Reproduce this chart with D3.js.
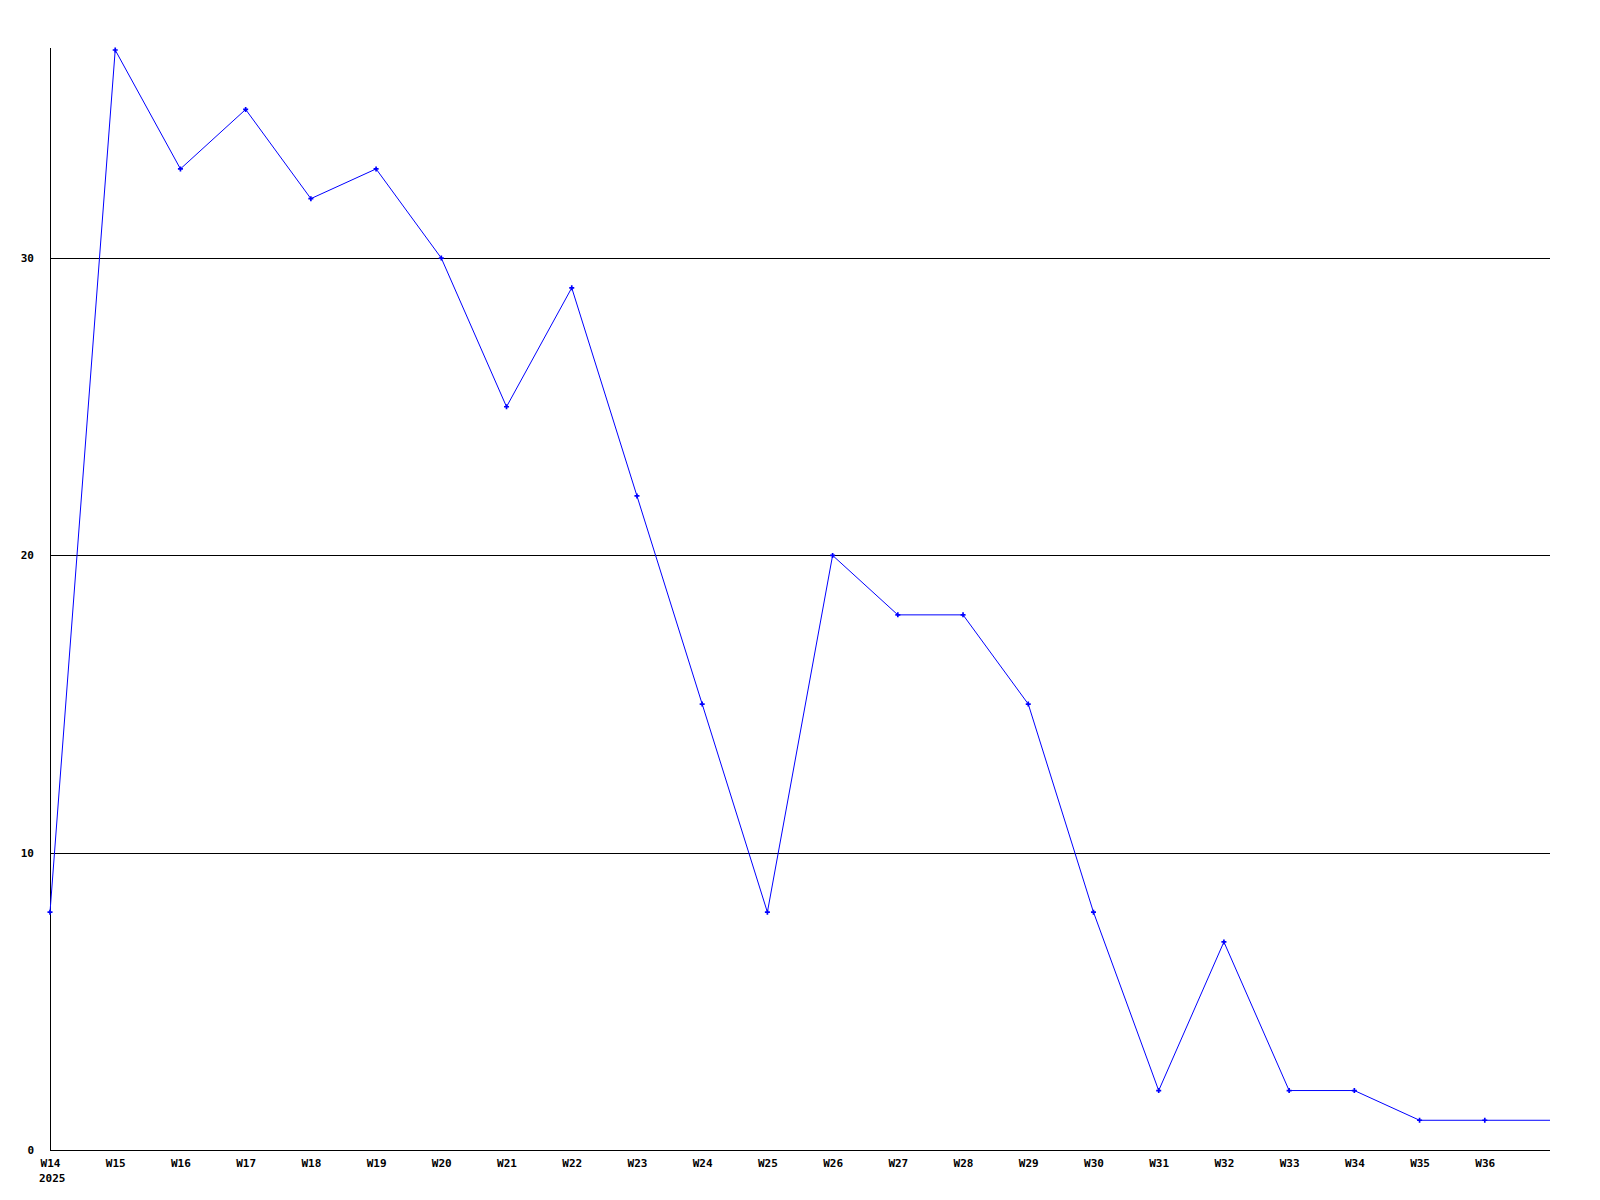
<!DOCTYPE html>
<html>
<head>
<meta charset="utf-8">
<script src="https://cdn.jsdelivr.net/npm/d3@7"></script>
<style>
  body { margin: 0; background: #fff; }
  svg text { font-family: "DejaVu Sans Mono", monospace; font-weight: bold; font-size: 11px; fill: #000; }
</style>
</head>
<body>
<div id="chart"></div>
<script>
const weeks = ["W14", "W15", "W16", "W17", "W18", "W19", "W20", "W21", "W22", "W23", "W24", "W25",
  "W26", "W27", "W28", "W29", "W30", "W31", "W32", "W33", "W34", "W35", "W36", "W37"];
const values = [8, 37, 33, 35, 32, 33, 30, 25, 29, 22, 15, 8,
  20, 18, 18, 15, 8, 2, 7, 2, 2, 1, 1, 1];
const yTicks = [0, 10, 20, 30];
const yearLabel = "2025";

const width = 1600, height = 1200;
const margin = { top: 50, right: 50, bottom: 50, left: 50 };

const svg = d3.select("#chart")
  .append("svg")
  .attr("width", width)
  .attr("height", height);

const x = d3.scalePoint()
  .domain(weeks)
  .range([margin.left, width - margin.right]);

const y = d3.scaleLinear()
  .domain([0, d3.max(values)])
  .range([height - margin.bottom, margin.top]);

// horizontal grid lines
svg.selectAll(".grid")
  .data(yTicks.filter((d) => d > 0))
  .enter()
  .append("line")
  .attr("class", "grid")
  .attr("x1", margin.left)
  .attr("x2", width - margin.right)
  .attr("y1", (d) => Math.round(y(d)) + 0.5)
  .attr("y2", (d) => Math.round(y(d)) + 0.5)
  .style("stroke", "#000")
  .style("stroke-width", 1)
  .style("shape-rendering", "crispEdges");

// axes
svg.append("line")
  .attr("x1", margin.left + 0.5).attr("x2", margin.left + 0.5)
  .attr("y1", margin.top - 2).attr("y2", height - margin.bottom + 0.5)
  .style("stroke", "#000")
  .style("shape-rendering", "crispEdges");

svg.append("line")
  .attr("x1", margin.left).attr("x2", width - margin.right)
  .attr("y1", height - margin.bottom + 0.5).attr("y2", height - margin.bottom + 0.5)
  .style("stroke", "#000")
  .style("shape-rendering", "crispEdges");

// y labels
svg.selectAll(".ylabel")
  .data(yTicks)
  .enter()
  .append("text")
  .attr("class", "ylabel")
  .attr("x", 34)
  .attr("y", (d) => y(d))
  .attr("dy", "0.35em")
  .attr("text-anchor", "end")
  .text((d) => d);

// x labels (last point has no label)
svg.selectAll(".xlabel")
  .data(weeks.slice(0, -1))
  .enter()
  .append("text")
  .attr("class", "xlabel")
  .attr("x", (d) => x(d) + 0.5)
  .attr("y", height - margin.bottom + 17)
  .attr("text-anchor", "middle")
  .text((d) => d);

svg.append("text")
  .attr("x", margin.left - 11)
  .attr("y", height - margin.bottom + 32)
  .text(yearLabel);

// line
const line = d3.line()
  .x((d, i) => x(weeks[i]))
  .y((d) => y(d));

svg.append("path")
  .datum(values)
  .attr("d", line)
  .attr("fill", "none")
  .style("stroke", "#0000ff")
  .style("stroke-width", 1);

// markers
svg.selectAll(".marker")
  .data(values.slice(0, -1))
  .enter()
  .append("path")
  .attr("class", "marker")
  .attr("d", d3.symbol().type(d3.symbolCross).size(14))
  .attr("transform", (d, i) => "translate(" + x(weeks[i]) + "," + y(d) + ")")
  .attr("fill", "#0000ff");
</script>
</body>
</html>
